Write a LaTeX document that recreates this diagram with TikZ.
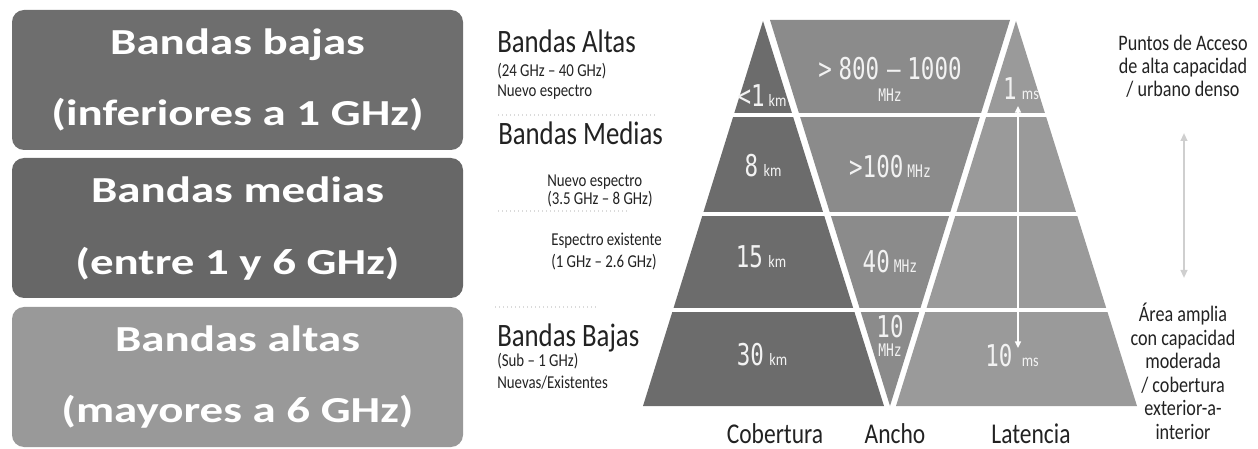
\documentclass[tikz,border=0pt]{standalone}
\usepackage{fontspec}
\setmainfont{Carlito}
\newfontfamily\boxfont[FakeStretch=1.28]{Carlito}
\newfontfamily\hilda[FakeStretch=0.82]{Carlito}
\newfontfamily\numfont[FakeStretch=0.75]{DejaVu Sans Mono}
\usetikzlibrary{arrows.meta}
\definecolor{boxA}{HTML}{6E6E6E}
\definecolor{boxB}{HTML}{676767}
\definecolor{boxC}{HTML}{999999}
\definecolor{pyrL}{HTML}{6C6C6C}
\definecolor{pyrM}{HTML}{8B8B8B}
\definecolor{pyrR}{HTML}{9A9A9A}
\definecolor{txtD}{HTML}{222222}
\definecolor{txtW}{HTML}{F2F2F2}
\definecolor{dotC}{HTML}{DADADA}
\definecolor{arrG}{HTML}{CFCFCF}
\tikzset{
  boxtext/.style={text=white, inner sep=0pt, anchor=base, font=\boxfont\bfseries\fontsize{27.5pt}{30pt}\selectfont},
  bigl/.style={text=txtD, inner sep=0pt, anchor=base west, font=\hilda\fontsize{24.5pt}{28pt}\selectfont},
  smalll/.style={text=txtD, inner sep=0pt, anchor=base west, font=\hilda\fontsize{13.6pt}{16pt}\selectfont},
  sidel/.style={text=txtD, inner sep=0pt, anchor=base, align=center, font=\hilda\fontsize{16.6pt}{17.6pt}\selectfont},
  botl/.style={text=txtD, inner sep=0pt, anchor=base, font=\hilda\fontsize{21.5pt}{24pt}\selectfont},
  numl/.style={text=txtW, inner sep=0pt, anchor=base},
  sep/.style={dotC, line width=1pt, dotted},
  band/.style={white, line width=3.2pt}
}
\newcommand{\bign}[1]{{\numfont\fontsize{22.5pt}{24pt}\selectfont #1}}
\newcommand{\unitk}[1]{{\hilda\fontsize{13pt}{14pt}\selectfont #1}}
\newcommand{\unitm}[1]{{\numfont\fontsize{13pt}{14pt}\selectfont #1}}
\begin{document}
\begin{tikzpicture}[x=0.75pt,y=-0.75pt]
\useasboundingbox (0,0) rectangle (1258,449);
% left boxes
\fill[boxA, rounded corners=9pt] (12,10) rectangle (463,150);
\fill[boxB, rounded corners=9pt] (12,158) rectangle (463,298);
\fill[boxC, rounded corners=9pt] (12,307) rectangle (463,447);
\node[boxtext] (b1a) at (237.5,55) {Bandas bajas};
\node[boxtext] (b1b) at (237.5,126) {(inferiores a 1 GHz)};
\node[boxtext] (b2a) at (237.5,203) {Bandas medias};
\node[boxtext] (b2b) at (237.5,275) {(entre 1 y 6 GHz)};
\node[boxtext] (b3a) at (237.5,352) {Bandas altas};
\node[boxtext] (b3b) at (237.5,422) {(mayores a 6 GHz)};
% pyramid
\fill[pyrL] (763,21) -- (643,406) -- (884,406) -- cycle;
\fill[pyrM] (770,20) -- (1010,20) -- (890,406) -- cycle;
\fill[pyrR] (1016,21) -- (896,406) -- (1137,406) -- cycle;
\foreach \yy in {115,214,310} \draw[band] (620,\yy) -- (1150,\yy);
% separators
\draw[sep] (498,115) -- (655,115);
\draw[sep] (498,211) -- (627,211);
\draw[sep] (495,307) -- (597,307);
% left labels
\node[bigl] (la1) at (497,53) {Bandas Altas};
\node[smalll] (la2) at (497,77) {(24 GHz – 40 GHz)};
\node[smalll] (la3) at (497,97) {Nuevo espectro};
\node[bigl] (lm1) at (498,145) {Bandas Medias};
\node[smalll] (lm2) at (547,187) {Nuevo espectro};
\node[smalll] (lm3) at (547,205) {(3.5 GHz – 8 GHz)};
\node[smalll] (lm4) at (551,246) {Espectro existente};
\node[smalll] (lm5) at (551,268) {(1 GHz – 2.6 GHz)};
\node[bigl] (lb1) at (497,346) {Bandas Bajas};
\node[smalll] (lb2) at (497,366) {(Sub – 1 GHz)};
\node[smalll] (lb3) at (497,388) {Nuevas/Existentes};
% pyramid numbers
\node[numl] (c1) at (762,107) {\bign{<1}\hspace{3pt}\unitk{km}};
\node[numl] (c2) at (763,177) {\bign{8}\hspace{4pt}\unitk{km}};
\node[numl] (c3) at (761,268) {\bign{15}\hspace{4pt}\unitk{km}};
\node[numl] (c4) at (762,365) {\bign{30}\hspace{4pt}\unitk{km}};
\node[numl] (w1) at (890,80) {\bign{>\hspace{5pt}800\hspace{6pt}–\hspace{5pt}1000}};
\node[numl] (w1u) at (890,102) {\unitm{MHz}};
\node[numl] (w2) at (890,178) {\bign{>100}\hspace{3pt}\unitm{MHz}};
\node[numl] (w3) at (890,273) {\bign{40}\hspace{3pt}\unitm{MHz}};
\node[numl] (w4) at (890,338) {\bign{10}};
\node[numl] (w4u) at (890,357) {\unitm{MHz}};
\node[numl] (l1) at (1021,100) {\bign{1}\hspace{4pt}\unitk{ms}};
\node[numl] (l2) at (1012,367) {\bign{10}\hspace{7pt}\unitk{ms}};
% latency arrow
\coordinate (latTop) at (1018,106);
\coordinate (latBot) at (1018,348);
\draw[white, line width=1.1pt, {Triangle[length=5pt,width=4.5pt]}-{Triangle[length=5pt,width=4.5pt]}] (latTop) -- (latBot);
% bottom labels
\node[botl] (xc) at (775,443) {Cobertura};
\node[botl] (xa) at (895,443) {Ancho};
\node[botl] (xl) at (1031,443) {Latencia};
% right side
\node[sidel] (s1) at (1183,97) {Puntos de Acceso\\de alta capacidad\\/ urbano denso};
\node[sidel] (s2) at (1183,439) {Área amplia\\con capacidad\\moderada\\/ cobertura\\exterior-a-\\interior};
\coordinate (gTop) at (1184,133);
\coordinate (gBot) at (1184,278);
\draw[arrG, line width=1.4pt, {Triangle[length=6pt,width=5pt]}-{Triangle[length=6pt,width=5pt]}] (gTop) -- (gBot);
\end{tikzpicture}
\end{document}
